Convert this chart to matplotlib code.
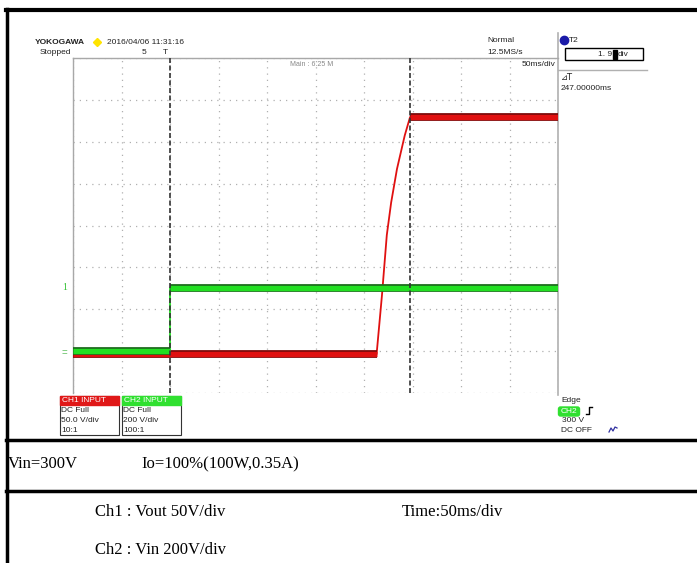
import numpy as np
import matplotlib.pyplot as plt
from matplotlib.patches import Rectangle, FancyBboxPatch

W, H = 697, 563

# scope settings
t_div = 50.0          # ms/div
ch1_scale = 50.0      # V/div
ch2_scale = 200.0     # V/div
ch1_offset = -3.07    # div
ch2_offset = -3.0     # div
cursor_t = 247.0      # ms after trigger

# CH1: Vout start-up
ch1_t = [-100, 213, 218.5, 223.5, 228, 234, 242, 247.5, 400]
ch1_v = [0, 0, 70, 142, 181, 221, 261, 283, 283]

# CH2: Vin step
ch2_t = [-100, 0, 0, 400]
ch2_v = [0, 0, 300, 300]

fig = plt.figure(figsize=(W / 100, H / 100), dpi=100)
bg = fig.add_axes([0, 0, 1, 1])
bg.set_xlim(0, W)
bg.set_ylim(H, 0)
bg.axis('off')

# scope screen area in pixels
x0, x1, y0, y1 = 73, 558, 58, 393
ax = fig.add_axes([x0 / W, 1 - y1 / H, (x1 - x0) / W, (y1 - y0) / H])
ax.set_xlim(-100, 400)
ax.set_ylim(-4, 4)
ax.patch.set_alpha(0)
ax.set_xticks(np.arange(-100, 401, t_div))
ax.set_yticks(np.arange(-4, 5, 1))
ax.tick_params(length=0, labelbottom=False, labelleft=False)
ax.grid(True, color='#b0b0b0', linestyle=(0, (1, 4)), linewidth=0.9)
for s in ['right', 'bottom']:
    ax.spines[s].set_visible(False)
for s in ['left', 'top']:
    ax.spines[s].set_color('#a8a8a8')
    ax.spines[s].set_linewidth(1.0)


def draw_trace(t, v, scale, offset, dark, bright, z):
    t = np.asarray(t, float)
    y = np.asarray(v, float) / scale + offset
    ax.plot(t, y, color=bright, lw=1.3, solid_capstyle='butt', zorder=z)
    for i in range(len(t) - 1):
        if y[i] == y[i + 1]:
            ax.plot(t[i:i + 2], y[i:i + 2], color=dark, lw=5.6,
                    solid_capstyle='butt', zorder=z)
            ax.plot(t[i:i + 2], y[i:i + 2], color=bright, lw=3.8,
                    solid_capstyle='butt', zorder=z)


draw_trace(ch1_t, ch1_v, ch1_scale, ch1_offset, '#7a0a0a', '#e01010', 3)
draw_trace(ch2_t, ch2_v, ch2_scale, ch2_offset, '#1d6a1d', '#22e022', 3.5)

for xc in [0, cursor_t]:
    ax.axvline(xc, color='#333333', lw=1.2, linestyle=(0, (3, 1.5)), zorder=4)

# outer frame and table rules
bg.plot([7, 7], [9, H], color='black', lw=2.5)
bg.plot([6, W], [10, 10], color='black', lw=3)
bg.plot([6, W], [440, 440], color='black', lw=2.5)
bg.plot([6, W], [491, 491], color='black', lw=2.5)

# right info panel separators
bg.plot([558, 558], [33, 395], color='#b0b0b0', lw=1.2)
bg.plot([558, 647], [70, 70], color='#b0b0b0', lw=1.0)

sf = 'Liberation Sans'
small = dict(fontsize=6, family=sf, va='center', color='#222222')
bg.text(35, 42, 'YOKOGAWA', fontweight='bold', **small)
bg.plot(97, 42, marker='D', color='#ffe400', ms=4.5)
bg.text(107, 42, '2016/04/06 11:31:16', **small)
bg.text(40, 52, 'Stopped', **small)
bg.text(142, 52, '5', **small)
bg.text(163, 53, 'T', **small)
bg.text(290, 65, 'Main : 6.25 M', fontsize=5, family=sf, va='center', color='#888888')
bg.text(487, 41, 'Normal', **small)
bg.text(487, 53, '12.5MS/s', **small)
bg.text(556, 65, '50ms/div', ha='right', fontsize=6, family=sf, va='center', color='#222222')

bg.plot(564, 40, marker='o', color='#1a1aa8', ms=6)
bg.text(569, 40, 'T2', **small)
bg.add_patch(Rectangle((565, 48), 78, 12, fill=False, edgecolor='black', lw=1))
bg.text(612, 54, '1. 9', ha='right', **small)
bg.add_patch(Rectangle((612.5, 49.5), 4, 9, color='black'))
bg.text(618, 54, 'div', **small)
bg.text(561, 77, '\u22bfT', fontsize=6, family=['DejaVu Sans'], va='center', color='#222222')
bg.text(561, 88, '247.00000ms', **small)

# channel level markers
bg.text(62, 288, '1', fontsize=7, family='Liberation Serif', va='center', color='#30c030')
bg.text(62, 353, '=', fontsize=7, family=sf, va='center', color='#60c060')

# channel info boxes
for bx, name, col, lines in [(60, 'CH1 INPUT', '#e01818', ['DC Full', '50.0 V/div', '10:1']),
                             (122, 'CH2 INPUT', '#30e030', ['DC Full', '200 V/div', '100:1'])]:
    bg.add_patch(Rectangle((bx, 396), 59, 39, fill=False, edgecolor='#333333', lw=0.8))
    bg.add_patch(Rectangle((bx, 396), 59, 9, color=col))
    bg.text(bx + 2, 400.5, name, fontsize=6, family=sf, va='center', color='white')
    for k, s in enumerate(lines):
        bg.text(bx + 1, 410 + 10 * k, s, **small)

# trigger info
bg.text(561, 400, 'Edge', **small)
bg.add_patch(FancyBboxPatch((559, 407.5), 20, 8, boxstyle='round,pad=0.5,rounding_size=2',
                            color='#30e030'))
bg.text(561, 411.5, 'CH2', fontsize=6, family=sf, va='center', color='white')
bg.plot([586, 589, 589, 592], [414, 414, 407, 407], color='black', lw=1)
bg.text(562, 421, '300 V', **small)
bg.text(561, 431, 'DC OFF', **small)
bg.plot([609, 611, 613, 615, 617], [432, 428, 431, 427, 428], color='#3030a0', lw=0.9)

# conditions table
tf = dict(fontsize=12, family='Liberation Serif', va='center', color='black')
bg.text(8, 464, 'Vin=300V', **tf)
bg.text(141, 464, 'Io=100%(100W,0.35A)', **tf)
bg.text(95, 512, 'Ch1 : Vout 50V/div', **tf)
bg.text(402, 512, 'Time:50ms/div', **tf)
bg.text(95, 550, 'Ch2 : Vin 200V/div', **tf)

fig.savefig('out.png', dpi=100)
